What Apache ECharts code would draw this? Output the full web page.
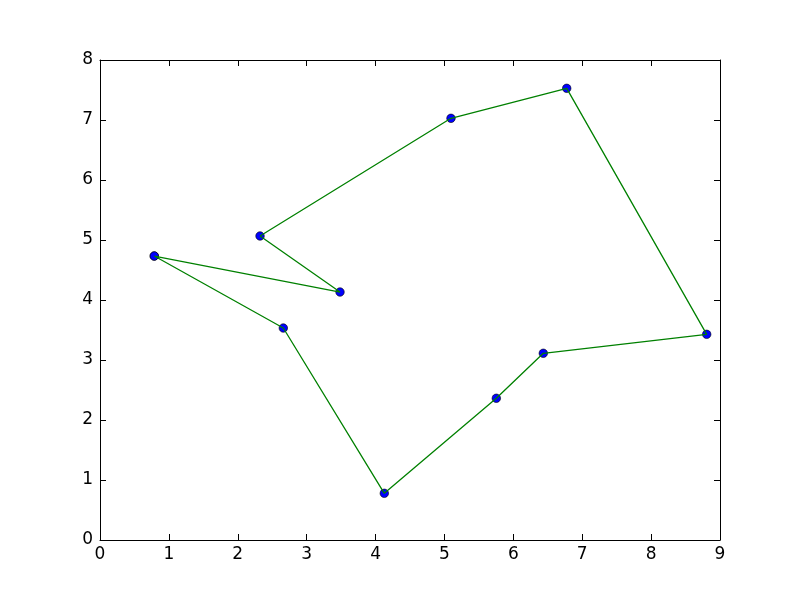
<!DOCTYPE html>
<html>
<head>
<meta charset="utf-8">
<script src="https://cdn.jsdelivr.net/npm/echarts@6/dist/echarts.min.js"></script>
<style>
  html, body { margin: 0; padding: 0; background: #fff; }
  #chart { width: 800px; height: 600px; }
</style>
</head>
<body>
<div id="chart"></div>
<script>
// tour through the points, closed back to the start
const xs = [0.788, 3.484, 2.323, 5.095, 6.775, 8.807, 6.435, 5.753, 4.127, 2.661, 0.788]
const ys = [4.733, 4.133, 5.067, 7.028, 7.528, 3.428, 3.112, 2.362, 0.778, 3.533, 4.733]
const xTicks = [0, 1, 2, 3, 4, 5, 6, 7, 8, 9]
const yTicks = [0, 1, 2, 3, 4, 5, 6, 7, 8]

const points = xs.map((x, i) => [x, ys[i]])

const chart = echarts.init(document.getElementById('chart'))

const font = { fontFamily: 'DejaVu Sans', fontSize: 17, color: '#000' }
const lineStyle = { color: '#000', width: 1 }

function axis(opts) {
  return Object.assign({
    type: 'value',
    interval: 1,
    splitLine: { show: false },
    axisLine: { show: true, onZero: false, lineStyle: lineStyle },
    axisTick: { show: true, inside: true, length: 6, lineStyle: lineStyle },
    axisLabel: Object.assign({ margin: 6 }, font)
  }, opts)
}

chart.setOption({
  animation: false,
  backgroundColor: '#fff',
  grid: { left: 100, right: 80, top: 60, bottom: 60 },
  xAxis: [
    axis({ min: xTicks[0], max: xTicks[xTicks.length - 1], position: 'bottom' }),
    axis({ min: xTicks[0], max: xTicks[xTicks.length - 1], position: 'top', axisLabel: { show: false } })
  ],
  yAxis: [
    axis({ min: yTicks[0], max: yTicks[yTicks.length - 1], position: 'left', axisLabel: Object.assign({ margin: 7 }, font) }),
    axis({ min: yTicks[0], max: yTicks[yTicks.length - 1], position: 'right', axisLabel: { show: false } })
  ],
  series: [
    {
      type: 'scatter',
      data: points,
      symbol: 'circle',
      symbolSize: 8.5,
      itemStyle: { color: '#0000ff', opacity: 1, borderColor: '#000', borderWidth: 0.6 },
      z: 2
    },
    {
      type: 'line',
      data: points,
      showSymbol: false,
      lineStyle: { color: '#008000', width: 1.3 },
      z: 3
    }
  ]
})
</script>
</body>
</html>
